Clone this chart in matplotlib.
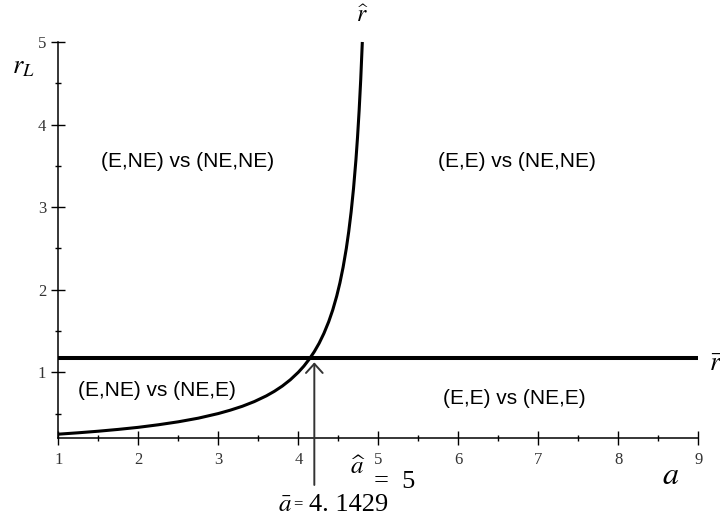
import numpy as np
import matplotlib
matplotlib.use("Agg")
import matplotlib.pyplot as plt
from matplotlib.ticker import MultipleLocator

plt.rcParams["mathtext.fontset"] = "stix"

# r-hat curve, points
a_hat = [1.0, 1.25, 1.5, 1.75, 2.0, 2.25, 2.5, 2.75, 3.0, 3.15, 3.3, 3.45,
         3.6, 3.7, 3.8, 3.9, 4.0, 4.07, 4.14, 4.2, 4.26, 4.32, 4.38, 4.43,
         4.48, 4.52, 4.56, 4.6, 4.63, 4.66, 4.69, 4.72, 4.74, 4.76, 4.78, 4.8]
r_hat = [0.25, 0.267, 0.286, 0.308, 0.333, 0.364, 0.4, 0.444, 0.5, 0.541,
         0.588, 0.645, 0.714, 0.769, 0.833, 0.909, 1.0, 1.075, 1.163, 1.25,
         1.351, 1.471, 1.613, 1.754, 1.923, 2.083, 2.273, 2.5, 2.703, 2.941,
         3.226, 3.571, 3.846, 4.167, 4.545, 5.0]

# r-bar level
a_bar_line = [1, 9]
r_bar = [1.167, 1.167]

# arrow at a-bar
arrow_a = 4.2
arrow_from = -0.365
arrow_to = 1.12

regions = ["(E,NE) vs (NE,NE)", "(E,E) vs (NE,NE)", "(E,NE) vs (NE,E)", "(E,E) vs (NE,E)"]
region_x = [2.62, 6.73, 2.23, 6.70]
region_y = [3.55, 3.55, 0.785, 0.684]

fig = plt.figure(figsize=(7.2, 5.17), dpi=100)
ax = fig.add_axes([0.081, 0.1522, 0.8889, 0.7666])

ax.plot(a_hat, r_hat, color="black", lw=2.2, clip_on=False,
        solid_capstyle="butt", solid_joinstyle="round")
ax.plot(a_bar_line, r_bar, color="black", lw=2.9, clip_on=False, solid_capstyle="butt")

ax.annotate("", xy=(arrow_a, arrow_to), xytext=(arrow_a, arrow_from),
            xycoords="data", textcoords="data", annotation_clip=False,
            arrowprops=dict(arrowstyle="->,head_length=0.55,head_width=0.5",
                            color="#333333", lw=1.4, shrinkA=0, shrinkB=0,
                            mutation_scale=12))

for t, x, y in zip(regions, region_x, region_y):
    ax.text(x, y, t, ha="center", va="center", fontsize=15,
            family="Liberation Sans")

ax.set_xlim(1, 9)
ax.set_ylim(0.2, 5)
for s in ["top", "right"]:
    ax.spines[s].set_visible(False)
for s in ["left", "bottom"]:
    ax.spines[s].set_linewidth(1.1)

ax.xaxis.set_major_locator(MultipleLocator(1))
ax.xaxis.set_minor_locator(MultipleLocator(0.5))
ax.set_yticks([1, 2, 3, 4, 5])
ax.set_yticks([0.5, 1.5, 2.5, 3.5, 4.5], minor=True)
ax.tick_params(which="major", direction="inout", length=9.5, width=1.0,
               labelsize=12, colors="black")
ax.tick_params(which="minor", direction="inout", length=4, width=1.0)
ax.tick_params(axis="x", which="major", pad=5)
ax.tick_params(axis="y", which="major", pad=4)
for lab in ax.get_xticklabels() + ax.get_yticklabels():
    lab.set_family("Liberation Serif")
    lab.set_color("#333333")

# axis / curve labels
ax.text(0.56, 4.70, r"$r_L$", ha="center", va="center", fontsize=19)
ax.text(8.65, -0.25, r"$a$", ha="center", va="center", fontsize=23)
ax.text(4.80, 5.33, r"$\widehat{r}$", ha="center", va="center", fontsize=17)
ax.text(9.13, 1.10, r"$\bar{r}$", ha="left", va="center", fontsize=19)

ax.text(4.65, -0.147, r"$\widehat{a}$", ha="left", va="center", fontsize=18)
ax.text(4.95, -0.33, "=  5", ha="left", va="center", fontsize=19,
        family="Liberation Serif")
ax.text(3.74, -0.602, r"$\bar{a}$", ha="left", va="center", fontsize=18)
ax.text(3.93, -0.602, "=", ha="left", va="center", fontsize=12,
        family="Liberation Serif")
ax.text(4.13, -0.602, "4. 1429", ha="left", va="center", fontsize=19,
        family="Liberation Serif")

fig.savefig("out.png", dpi=100)
